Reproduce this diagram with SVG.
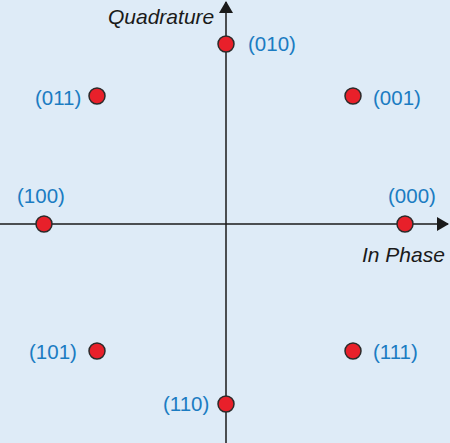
<svg xmlns="http://www.w3.org/2000/svg" width="450" height="443" viewBox="0 0 450 443">
<style>
.lbl{font-family:"Liberation Sans",Arial,sans-serif;font-size:20.5px;fill:#1b7cc2}
.ax{font-family:"Liberation Sans",Arial,sans-serif;font-size:21px;font-style:italic;fill:#1a1a1a}
.pt{fill:#e8202a;stroke:#2b2b2b;stroke-width:1.5}
.axis{stroke:#1a1a1a;stroke-width:1.5;fill:none}
</style>
<defs>
<marker id="arr" markerWidth="12" markerHeight="14" refX="11" refY="7" orient="auto" markerUnits="userSpaceOnUse">
<path d="M0,0 L12,7 L0,14 Z" fill="#1a1a1a"/>
</marker>
</defs>
<rect width="450" height="443" fill="#deebf7"/>
<g id="connectors">
<line class="axis" x1="0" y1="224" x2="448" y2="224" marker-end="url(#arr)"/>
<line class="axis" x1="226" y1="443" x2="226" y2="2" marker-end="url(#arr)"/>
</g>
<text class="ax" x="108" y="24">Quadrature</text>
<text class="ax" x="362" y="262">In Phase</text>
<g id="p010"><circle class="pt" cx="226" cy="44" r="8"/><text class="lbl" x="248" y="51">(010)</text></g>
<g id="p011"><circle class="pt" cx="97" cy="96" r="8"/><text class="lbl" x="35" y="105">(011)</text></g>
<g id="p001"><circle class="pt" cx="353" cy="96" r="8"/><text class="lbl" x="373" y="105">(001)</text></g>
<g id="p100"><circle class="pt" cx="44" cy="224" r="8"/><text class="lbl" x="17" y="203">(100)</text></g>
<g id="p000"><circle class="pt" cx="405" cy="224" r="8"/><text class="lbl" x="388" y="203">(000)</text></g>
<g id="p101"><circle class="pt" cx="97" cy="351" r="8"/><text class="lbl" x="29" y="359">(101)</text></g>
<g id="p111"><circle class="pt" cx="353" cy="351" r="8"/><text class="lbl" x="373" y="359">(111)</text></g>
<g id="p110"><circle class="pt" cx="226" cy="404" r="8"/><text class="lbl" x="163" y="411">(110)</text></g>
</svg>
